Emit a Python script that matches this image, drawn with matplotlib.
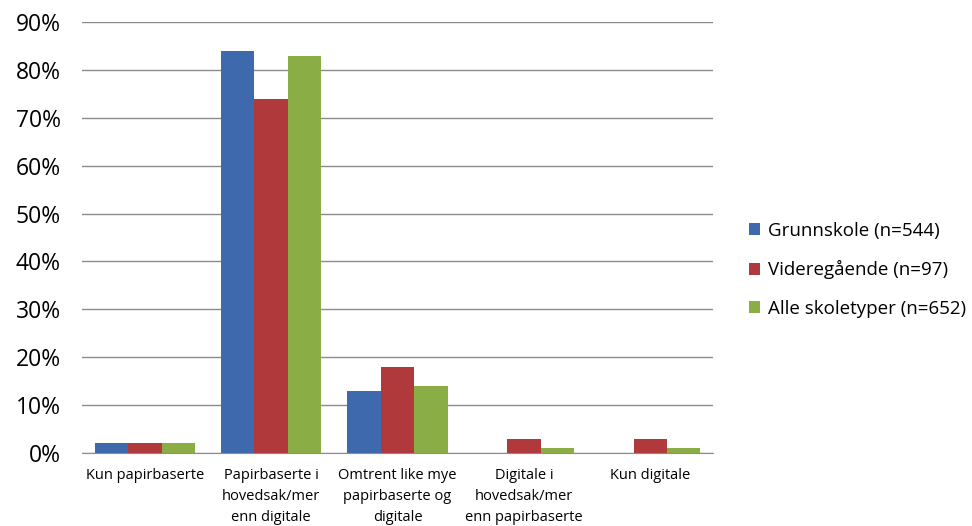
import numpy as np
import matplotlib
matplotlib.use("Agg")
import matplotlib.pyplot as plt
from matplotlib.ticker import MultipleLocator, FuncFormatter

plt.rcParams['font.family'] = ['Open Sans', 'DejaVu Sans']

categories = ['Kun papirbaserte', 'Papirbaserte i\nhovedsak/mer\nenn digitale',
              'Omtrent like mye\npapirbaserte og\ndigitale', 'Digitale i\nhovedsak/mer\nenn papirbaserte',
              'Kun digitale']
series_names = ['Grunnskole (n=544)', 'Videregående (n=97)', 'Alle skoletyper (n=652)']
grunnskole = [2, 84, 13, 0, 0]
videregaende = [2, 74, 18, 3, 3]
alle = [2, 83, 14, 1, 1]
colors = ['#3e6aad', '#b0393b', '#8bad46']

fig = plt.figure(figsize=(9.72, 5.26), dpi=100)
ax = fig.add_axes([0.084, 0.139, 0.650, 0.819])

x = np.arange(len(categories))
w = 0.265
for i, (vals, name, c) in enumerate(zip([grunnskole, videregaende, alle], series_names, colors)):
    ax.bar(x + (i - 1) * w, vals, width=w, color=c, label=name, zorder=3)

ax.set_xlim(-0.5, len(categories) - 0.5)
ax.set_ylim(0, 90)
ax.yaxis.set_major_locator(MultipleLocator(10))
ax.yaxis.set_major_formatter(FuncFormatter(lambda v, p: f'{v:.0f}%'))
ax.grid(axis='y', color='#8c8c8c', linewidth=1, zorder=0)
ax.set_xticks(x)
ax.set_xticklabels(categories, fontsize=10.5, linespacing=1.55, va='top')
ax.tick_params(axis='x', length=0, pad=11)
ax.tick_params(axis='y', length=0, pad=15, labelsize=16.5)
for s in ['top', 'right', 'left']:
    ax.spines[s].set_visible(False)
ax.spines['bottom'].set_color('#8c8c8c')

leg = fig.legend(loc='center left', bbox_to_anchor=(0.753, 0.487), frameon=False,
                 fontsize=13.5, handlelength=0.6, handleheight=0.6, handletextpad=0.4,
                 labelspacing=1.1)

fig.savefig('out.png', dpi=100)
